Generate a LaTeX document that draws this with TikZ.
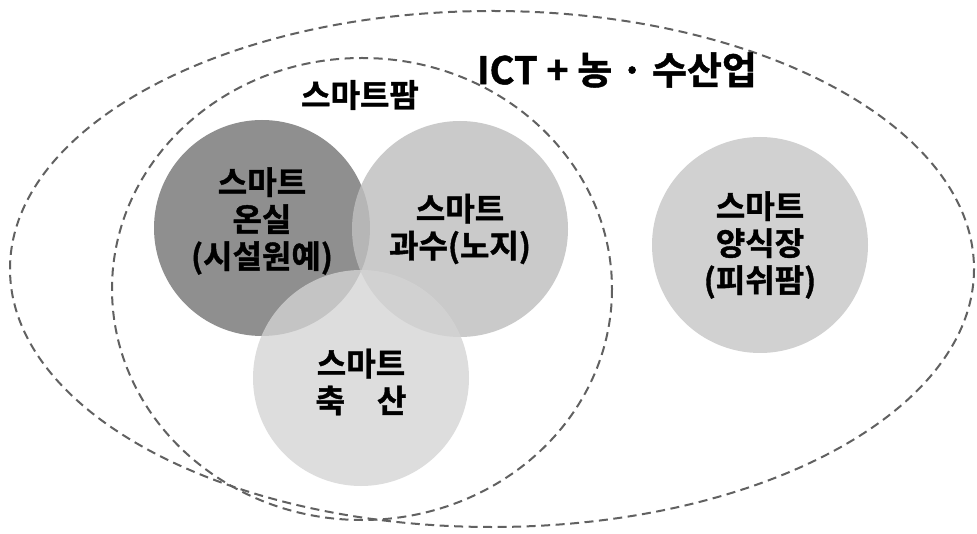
\documentclass[tikz,border=0pt]{standalone}
\usepackage{fontspec}
\setmainfont{Noto Sans CJK KR}[BoldFont={Noto Sans CJK KR Bold}, BoldFeatures={FakeBold=1.2}]
\begin{document}
\begin{tikzpicture}[x=1pt,y=-1pt,
  dashline/.style={draw=black!62, line width=2pt, dash pattern=on 9pt off 5.5pt},
  farmcircle/.style={circle, minimum size=216pt, inner sep=0pt, align=center,
    font=\fontsize{32}{37}\selectfont\bfseries, text=black},
  label/.style={font=\fontsize{32}{34}\selectfont\bfseries, text=black, inner sep=0pt}]
\useasboundingbox (0,0) rectangle (977,534);
\fill[white] (0,0) rectangle (977,534);
% ellipses
\draw[dashline] (492,269) ellipse [x radius=482, y radius=258];
\draw[dashline] (362,289) ellipse [x radius=250, y radius=231];
% circles
\node[farmcircle, fill=black!44] (onsil) at (262,228) {};
\node[farmcircle, fill=black!25, fill opacity=0.82] (gwasu) at (460,229) {};
\node[farmcircle, fill=black!17, fill opacity=0.78] (chuksan) at (361,378) {};
\node[farmcircle, fill=black!18] (yangsik) at (760,245) {};
% texts
\node[farmcircle] at ([yshift=7pt]onsil) {스마트\\온실\\(시설원예)};
\node[farmcircle] at (gwasu) {스마트\\과수(노지)};
\node[farmcircle] at ([yshift=-4pt]chuksan) {스마트\\축\hspace{1em}산};
\node[farmcircle] at (yangsik) {스마트\\양식장\\(피쉬팜)};
\node[label, font=\fontsize{38}{40}\selectfont\bfseries] (ict) at (617,70) {ICT + 농 · 수산업};
\node[label] (farm) at (360,95) {스마트팜};
\end{tikzpicture}
\end{document}
